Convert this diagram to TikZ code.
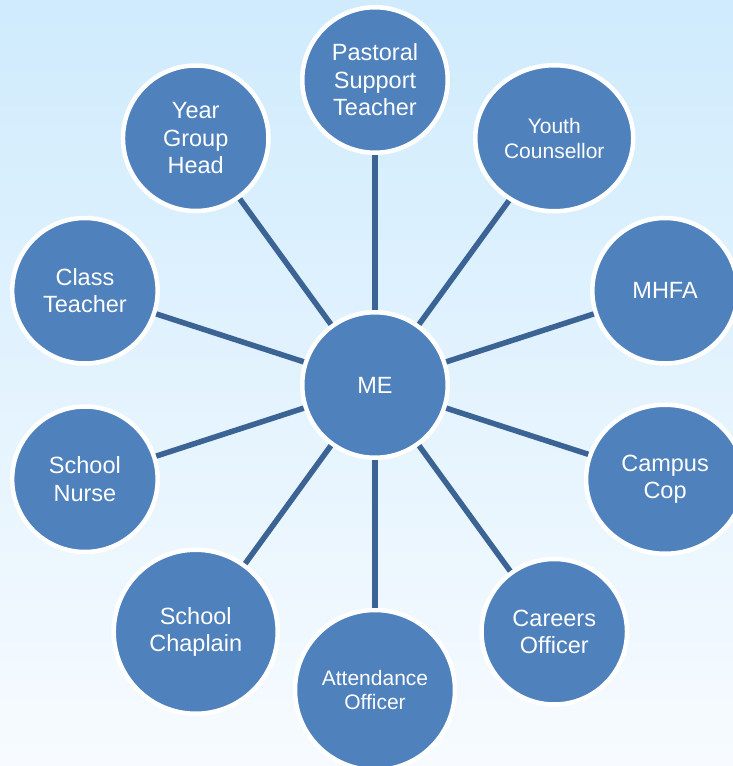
\documentclass[tikz,border=0pt]{standalone}
\usepackage{fontspec}
\setmainfont{Liberation Sans}
\usepackage{xcolor}
\usetikzlibrary{shapes.geometric}
\definecolor{bgtop}{RGB}{207,235,253}
\definecolor{bgbot}{RGB}{247,251,255}
\definecolor{disc}{RGB}{79,129,189}
\definecolor{spoke}{RGB}{59,99,147}

\begin{document}
\begin{tikzpicture}[x=1pt, y=1pt,
  role/.style={circle, draw=white, line width=4.5pt, fill=disc, text=white, align=center,
    inner sep=0pt, minimum size=145.5pt, font=\fontsize{23.5}{27.5}\selectfont},
  small/.style={font=\fontsize{21}{24.5}\selectfont},
  oval/.style={ellipse, minimum width=158pt, minimum height=146pt},
  link/.style={draw=spoke, line width=5.5pt}]
\clip (-375,-381) rectangle (358,385);
\shade[top color=bgtop, bottom color=bgbot] (-375,-381) rectangle (358,385);
\node[role] (me) at (0,0) {ME};
\node[role] (pst) at (90:305) {Pastoral\\ Support\\ Teacher};
\node[role, oval, small] (yc) at (54:305) {Youth\\ Counsellor};
\node[role] (mhfa) at (18:305) {MHFA};
\node[role, oval, minimum height=149pt] (cop) at (-18:305) {Campus\\ Cop};
\node[role] (car) at (-54:305) {Careers\\ Officer};
\node[role, small, minimum size=160pt] (att) at (-90:305) {Attendance\\ Officer};
\node[role, minimum size=164pt] (chap) at (-126:305) {School\\ Chaplain};
\node[role] (nurse) at (-162:305) {School\\ Nurse};
\node[role] (ct) at (162:305) {Class\\ Teacher};
\node[role] (ygh) at (126:305) {Year\\ Group\\ Head};
\draw[link] (me) -- (pst); \draw[link] (me) -- (yc); \draw[link] (me) -- (mhfa);
\draw[link] (me) -- (cop); \draw[link] (me) -- (car); \draw[link] (me) -- (att);
\draw[link] (me) -- (chap); \draw[link] (me) -- (nurse); \draw[link] (me) -- (ct);
\draw[link] (me) -- (ygh);
\end{tikzpicture}
\end{document}
